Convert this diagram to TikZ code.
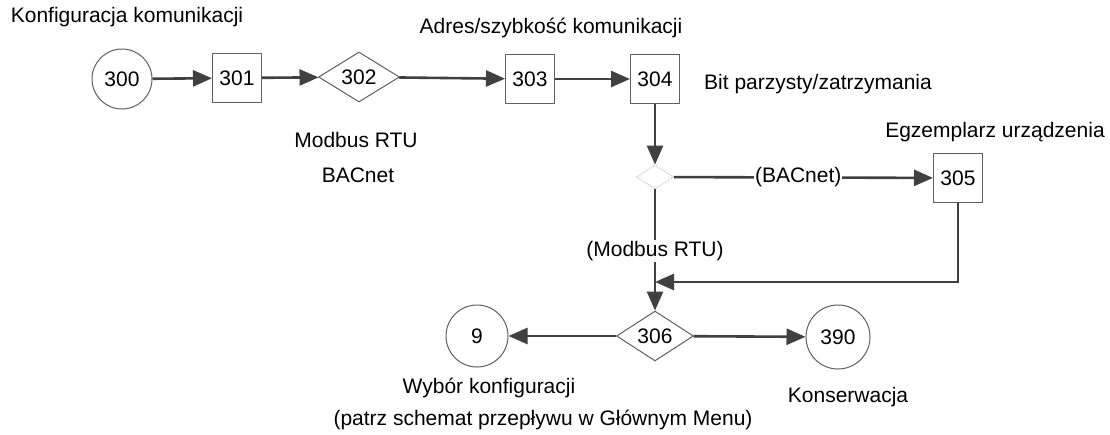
\documentclass[tikz,border=0pt]{standalone}
\usepackage{fontspec}
\setmainfont{Liberation Sans}
\usetikzlibrary{shapes.geometric,arrows.meta}
\definecolor{lineg}{HTML}{404040}
\definecolor{boxg}{HTML}{606060}
\tikzset{
  txt/.style={font=\fontsize{21}{25}\selectfont, inner sep=0pt, text=black},
  circ/.style={circle, draw=boxg, line width=1pt, minimum size=#1, inner sep=0pt, font=\fontsize{21}{25}\selectfont},
  sbox/.style={rectangle, draw=boxg, line width=1pt, minimum width=49pt, minimum height=49pt, inner sep=0pt, font=\fontsize{21}{25}\selectfont},
  dia/.style={diamond, draw=boxg, line width=1pt, inner sep=0pt, font=\fontsize{21}{25}\selectfont},
  arr/.style={draw=lineg, line width=2.6pt, -{Triangle[length=19pt,width=16pt]}},
  elab/.style={fill=white, inner sep=1pt, font=\fontsize{21}{25}\selectfont},
}
\begin{document}
\begin{tikzpicture}[x=1pt,y=-1pt]
\useasboundingbox[fill=white] (0,0) rectangle (1110,434);
% nodes
\node[circ=60pt] (c300) at (122,79) {300};
\node[sbox] (b301) at (237,78) {301};
\node[dia, minimum width=81pt, minimum height=50pt] (d302) at (359,77) {302};
\node[sbox] (b303) at (530,79) {303};
\node[sbox] (b304) at (655,79) {304};
\node[diamond, draw=black!30, densely dotted, line width=0.8pt, minimum width=37pt, minimum height=24pt, inner sep=0pt] (dq) at (655,177) {};
\node[sbox] (b305) at (958,178) {305};
\node[dia, minimum width=77pt, minimum height=48pt] (d306) at (655,336) {306};
\node[circ=62pt] (c9) at (477,336) {9};
\node[circ=64pt] (c390) at (838,337) {390};
\coordinate (j) at (655,282);
% texts
\node[txt] (t1) at (127,17) {Konfiguracja komunikacji};
\node[txt] (t2) at (551,28) {Adres/szybkość komunikacji};
\node[txt] (t3) at (818,84) {Bit parzysty/zatrzymania};
\node[txt] (t4) at (356,140) {Modbus RTU};
\node[txt] (t5) at (358,175) {BACnet};
\node[txt] (t6) at (995,132) {Egzemplarz urządzenia};
\node[txt] (t7) at (489,388) {Wybór konfiguracji};
\node[txt] (t8) at (543,420) {(patrz schemat przepływu w Głównym Menu)};
\node[txt] (t9) at (848,397) {Konserwacja};
% connectors
\draw[arr] (c300) -- (b301);
\draw[arr] (b301) -- (d302);
\draw[arr] (d302) -- (b303);
\draw[arr] (b303) -- (b304);
\draw[arr] (b304) -- (dq);
\draw[arr] (dq) -- node[elab, pos=0.48] {(BACnet)} (b305);
\draw[arr] (dq) -- node[elab, pos=0.51] {(Modbus RTU)} (d306);
\draw[arr] (b305.south) |- (j);
\draw[arr] (d306) -- (c9);
\draw[arr] (d306) -- (c390);
\end{tikzpicture}
\end{document}
